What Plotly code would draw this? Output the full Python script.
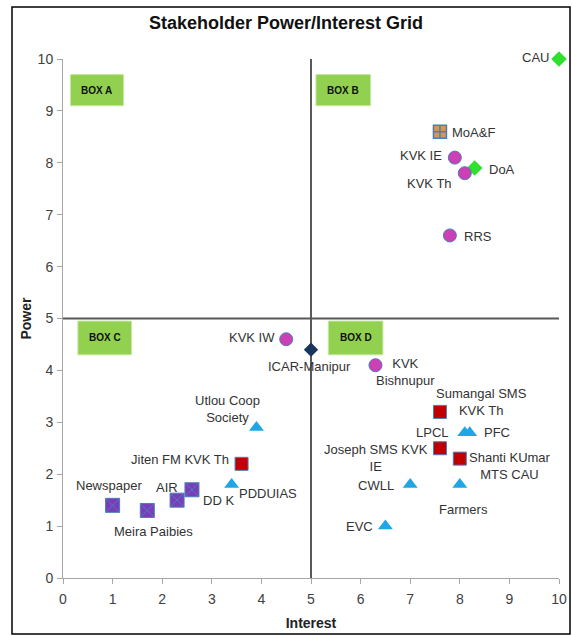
import plotly.graph_objects as go

# ---------------- data ----------------
names = ["CAU", "MoA&F", "KVK IE", "KVK Th", "DoA", "RRS",
         "KVK IW", "ICAR-Manipur", "KVK<br>Bishnupur",
         "Sumangal SMS<br>KVK Th", "LPCL", "PFC", "Joseph SMS KVK<br>IE",
         "Shanti KUmar<br>MTS CAU", "CWLL", "Farmers", "EVC",
         "Utlou Coop<br>Society", "Jiten FM KVK Th", "PDDUIAS", "DD K", "AIR",
         "Newspaper", "Meira Paibies"]
interest = [10.0, 7.6, 7.9, 8.1, 8.3, 7.8,
            4.5, 5.0, 6.3,
            7.6, 8.1, 8.2, 7.6,
            8.0, 7.0, 8.0, 6.5,
            3.9, 3.6, 3.4, 2.6, 2.3,
            1.0, 1.7]
power = [10.0, 8.6, 8.1, 7.8, 7.9, 6.6,
         4.6, 4.4, 4.1,
         3.2, 2.8, 2.8, 2.5,
         2.3, 1.8, 1.8, 1.0,
         2.9, 2.2, 1.8, 1.7, 1.5,
         1.4, 1.3]
groups = ["green", "orange", "magenta", "magenta", "green", "magenta",
          "magenta", "navy", "magenta",
          "red", "blue", "blue", "red",
          "red", "blue", "blue", "blue",
          "blue", "red", "blue", "purple", "purple",
          "purple", "purple"]

box_names = ["BOX A", "BOX B", "BOX C", "BOX D"]
box_x0 = [0.15, 5.1, 0.3, 5.35]
box_x1 = [1.22, 6.2, 1.38, 6.45]
box_y0 = [9.1, 9.1, 4.3, 4.3]
box_y1 = [9.7, 9.7, 4.95, 4.95]

x_ticks = list(range(0, 11))
y_ticks = list(range(0, 11))

# ---------------- styles ----------------
FONT = "Liberation Sans, Arial, sans-serif"
OUTLINE = "#4A7EBB"
styles = {
    "green":   dict(symbol="diamond", color="#2FE02F", size=12, line=dict(width=0, color=OUTLINE)),
    "orange":  dict(symbol="square-cross", color="#D4994C", size=13, line=dict(width=1.5, color=OUTLINE)),
    "magenta": dict(symbol="circle", color="#CC3FB5", size=13, line=dict(width=1, color=OUTLINE)),
    "navy":    dict(symbol="diamond", color="#17365D", size=11, line=dict(width=0, color=OUTLINE)),
    "red":     dict(symbol="square", color="#C00000", size=13, line=dict(width=1, color=OUTLINE)),
    "blue":    dict(symbol="triangle-up", color="#1EA6E6", size=13, line=dict(width=0, color=OUTLINE)),
    "purple":  dict(symbol="square-x", color="#7A3DB8", size=14, line=dict(width=1, color=OUTLINE)),
}

# label placement: (xanchor, dx px, dy px downward)
label_pos = {
    "CAU": ("right", -8, -2),
    "MoA&F": ("left", 10, 1),
    "KVK IE": ("right", -11, -2),
    "KVK Th": ("right", -11, 10),
    "DoA": ("left", 12, 2),
    "RRS": ("left", 12, 1),
    "KVK IW": ("right", -9, -2),
    "ICAR-Manipur": ("center", -2, 17),
    "KVK<br>Bishnupur": ("center", 30, 7),
    "Sumangal SMS<br>KVK Th": ("center", 42, -10),
    "LPCL": ("right", -14, 0),
    "PFC": ("left", 12, 0),
    "Joseph SMS KVK<br>IE": ("center", -64, 10),
    "Shanti KUmar<br>MTS CAU": ("center", 50, 7),
    "CWLL": ("right", -14, 1),
    "Farmers": ("center", 4, 25),
    "EVC": ("right", -10, 0),
    "Utlou Coop<br>Society": ("center", -29, -18),
    "Jiten FM KVK Th": ("right", -11, -4),
    "PDDUIAS": ("left", 5, 9),
    "DD K": ("left", 9, 11),
    "AIR": ("center", -10, -13),
    "Newspaper": ("center", -4, -20),
    "Meira Paibies": ("center", 6, 21),
}

fig = go.Figure()

for g in ["green", "orange", "magenta", "navy", "red", "blue", "purple"]:
    idx = [i for i, gg in enumerate(groups) if gg == g]
    st = styles[g]
    fig.add_trace(go.Scatter(
        x=[interest[i] for i in idx], y=[power[i] for i in idx],
        mode="markers", cliponaxis=False, showlegend=False,
        marker=dict(symbol=st["symbol"], color=st["color"], size=st["size"], line=st["line"]),
        hoverinfo="skip",
    ))

annotations = []
for n, xv, yv in zip(names, interest, power):
    anc, dx, dy = label_pos[n]
    annotations.append(dict(
        x=xv, y=yv, xref="x", yref="y", text=n, showarrow=False,
        xanchor=anc, yanchor="middle", xshift=dx, yshift=-dy,
        font=dict(family=FONT, size=13, color="#333333"), align="center",
    ))

shapes = []
# quadrant lines
shapes.append(dict(type="line", xref="x", yref="y", x0=5, x1=5, y0=0, y1=10,
                   line=dict(color="#595959", width=2), layer="below"))
shapes.append(dict(type="line", xref="x", yref="y", x0=0, x1=10, y0=5, y1=5,
                   line=dict(color="#595959", width=2), layer="below"))
# boxes
for bn, a0, a1, b0, b1 in zip(box_names, box_x0, box_x1, box_y0, box_y1):
    shapes.append(dict(type="rect", xref="x", yref="y", x0=a0, x1=a1, y0=b0, y1=b1,
                       fillcolor="#92D050", line=dict(color="#C5E8A0", width=1), layer="below"))
    annotations.append(dict(x=(a0 + a1) / 2, y=(b0 + b1) / 2, xref="x", yref="y", text="<b>" + bn + "</b>",
                            showarrow=False, xanchor="center", yanchor="middle",
                            font=dict(family=FONT, size=10, color="#111111")))

# outer border (paper coords derived from margins)
W, H = 572, 636
L, R, T, B = 63, 13, 59, 58
pw, ph = W - L - R, H - T - B
def px_x(p): return (p - L) / pw
def px_y(p): return (H - B - p) / ph
shapes.append(dict(type="rect", xref="paper", yref="paper",
                   x0=px_x(12), x1=px_x(570), y0=px_y(634), y1=px_y(7),
                   line=dict(color="#000000", width=1.5), fillcolor="rgba(0,0,0,0)"))

fig.update_layout(
    width=W, height=H,
    margin=dict(l=L, r=R, t=T, b=B, autoexpand=False),
    paper_bgcolor="white", plot_bgcolor="white",
    title=dict(text="<b>Stakeholder Power/Interest Grid</b>", x=0.5, xanchor="center",
               y=1 - 23 / H, yanchor="middle", font=dict(family=FONT, size=18, color="#111111")),
    shapes=shapes, annotations=annotations,
    xaxis=dict(range=[0, 10], tickvals=x_ticks, ticktext=[str(t) for t in x_ticks], automargin=False,
               showgrid=False, zeroline=False, showline=True, linecolor="#A6A6A6", linewidth=1,
               ticks="outside", ticklen=5, tickcolor="#A6A6A6", ticklabelstandoff=3,
               tickfont=dict(family=FONT, size=14, color="#404040"),
               title=dict(text="<b>Interest</b>", standoff=12,
                          font=dict(family=FONT, size=14, color="#222222"))),
    yaxis=dict(range=[0, 10], tickvals=y_ticks, ticktext=[str(t) for t in y_ticks], automargin=False,
               showgrid=False, zeroline=False, showline=True, linecolor="#A6A6A6", linewidth=1,
               ticks="outside", ticklen=5, tickcolor="#A6A6A6", ticklabelstandoff=1,
               tickfont=dict(family=FONT, size=14, color="#404040"),
               title=dict(text="<b>Power</b>", standoff=2,
                          font=dict(family=FONT, size=14, color="#222222"))),
)

fig.write_html("out.html", config={"displayModeBar": False},
               post_script="document.body.style.margin='0px';")
